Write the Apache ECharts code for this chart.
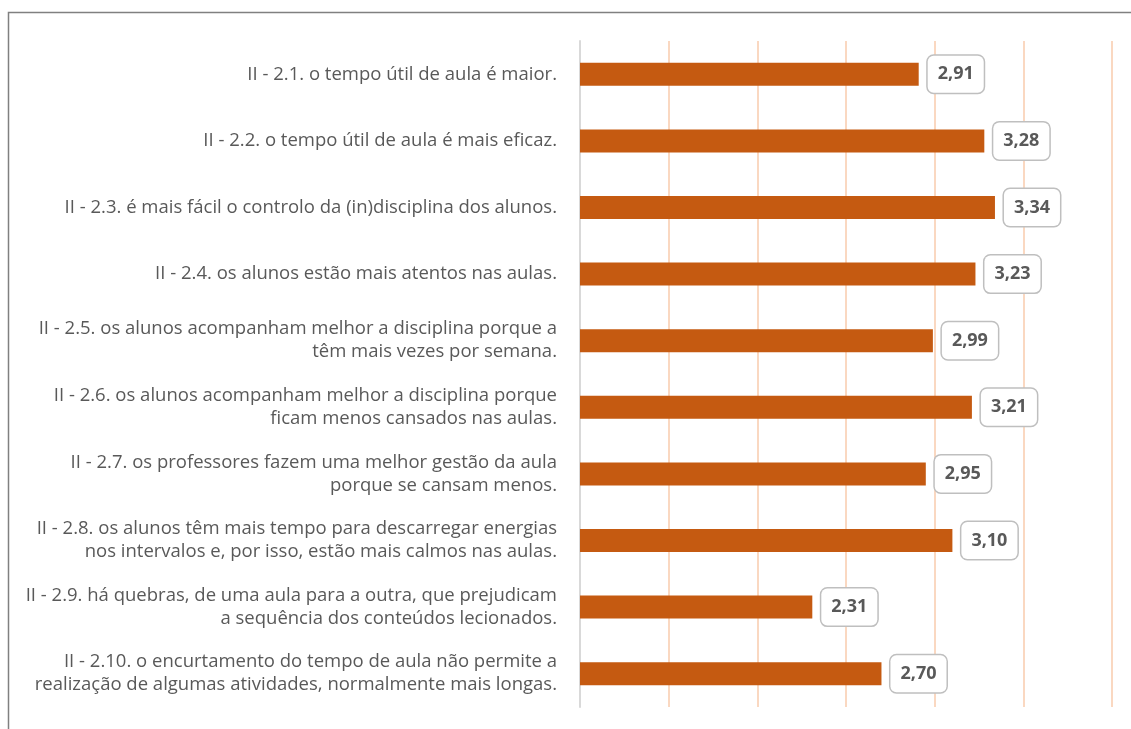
<!DOCTYPE html>
<html>
<head>
<meta charset="utf-8">
<script src="https://cdn.jsdelivr.net/npm/echarts@6/dist/echarts.min.js"></script>
<style>
  html, body { margin: 0; padding: 0; background: #fff; }
  #chart { width: 1131px; height: 729px; }
</style>
</head>
<body>
<div id="chart"></div>
<script>
// categories, top to bottom
const categories = [
  'II - 2.1. o tempo útil de aula é maior.',
  'II - 2.2. o tempo útil de aula é mais eficaz.',
  'II - 2.3. é mais fácil o controlo da (in)disciplina dos alunos.',
  'II - 2.4. os alunos estão mais atentos nas aulas.',
  'II - 2.5. os alunos acompanham melhor a disciplina porque a\ntêm mais vezes por semana.',
  'II - 2.6. os alunos acompanham melhor a disciplina porque\nficam menos cansados nas aulas.',
  'II - 2.7. os professores fazem uma melhor gestão da aula\nporque se cansam menos.',
  'II - 2.8. os alunos têm mais tempo para descarregar energias\nnos intervalos e, por isso, estão mais calmos nas aulas.',
  'II - 2.9. há quebras, de uma aula para a outra, que prejudicam\na sequência dos conteúdos lecionados.',
  'II - 2.10. o encurtamento do tempo de aula não permite a\nrealização de algumas atividades, normalmente mais longas.'
];
const values = [2.91, 3.28, 3.34, 3.23, 2.99, 3.21, 2.95, 3.10, 2.31, 2.70];

const chart = echarts.init(document.getElementById('chart'));

chart.setOption({
  animation: false,
  graphic: [
    {
      type: 'rect',
      shape: { x: 8.5, y: 12.5, width: 1300, height: 900 },
      style: { fill: 'none', stroke: '#808080', lineWidth: 1.5 },
      silent: true
    }
  ],
  grid: { left: 580, right: 19, top: 41, bottom: 22 },
  xAxis: {
    type: 'value',
    min: 1,
    max: 4,
    interval: 0.5,
    axisLine: { show: false },
    axisTick: { show: false },
    axisLabel: { show: false },
    splitLine: { lineStyle: { color: '#f8cbad', width: 1.5 } }
  },
  yAxis: {
    type: 'category',
    inverse: true,
    data: categories,
    axisLine: { show: true, lineStyle: { color: '#d9d9d9', width: 2 } },
    axisTick: { show: false },
    axisLabel: {
      color: '#595959',
      fontSize: 18.5,
      fontFamily: '"Open Sans", "Noto Sans", sans-serif',
      align: 'right',
      margin: 23,
      lineHeight: 23
    }
  },
  series: [
    {
      type: 'bar',
      data: values,
      barWidth: 23,
      itemStyle: { color: '#c55a11' },
      label: {
        show: true,
        position: 'right',
        distance: 9,
        formatter: (p) => p.value.toFixed(2).replace('.', ','),
        color: '#595959',
        fontSize: 18,
        fontWeight: 'bold',
        fontFamily: '"Open Sans", "Noto Sans", sans-serif',
        backgroundColor: '#fff',
        borderColor: '#bfbfbf',
        borderWidth: 1.5,
        borderRadius: 6,
        padding: [10, 10, 9, 10]
      }
    }
  ]
});
</script>
</body>
</html>
